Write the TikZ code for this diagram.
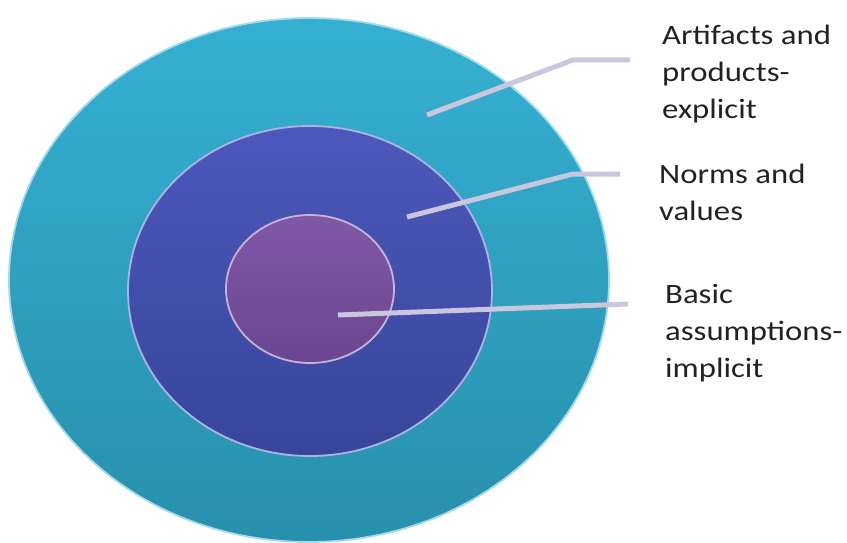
\documentclass[tikz,border=0pt]{standalone}
\usepackage{fontspec}
\setmainfont{Carlito}
\newfontfamily\lblfont[FakeStretch=1.17]{Carlito}
\usetikzlibrary{shapes.geometric}
\usepackage{xcolor}
\definecolor{outerring}{HTML}{35B0D2}
\definecolor{outerringdk}{HTML}{2890AC}
\definecolor{midring}{HTML}{4C58BC}
\definecolor{midringdk}{HTML}{37469A}
\definecolor{corefill}{HTML}{8058A8}
\definecolor{corefilldk}{HTML}{6A4690}
\definecolor{leadline}{HTML}{C9C6DD}
\definecolor{labeltext}{HTML}{222222}

\begin{document}
\begin{tikzpicture}[
    x=1pt, y=-1pt,
    ring/.style n args={2}{ellipse, inner sep=0pt, top color=#1, bottom color=#2, draw=#1!45!white, line width=1.8pt},
    leader/.style={line width=5pt, color=leadline},
    lbl/.style={font=\lblfont\fontsize{28}{37}\selectfont, text=labeltext, align=left, inner sep=0pt},
]
\useasboundingbox (0,0) rectangle (847,543);

\node[ring={outerring}{outerringdk}, minimum width=600pt, minimum height=524pt] (outer) at (309,280) {};
\node[ring={midring}{midringdk}, minimum width=364pt, minimum height=330pt] (mid) at (310,291) {};
\node[ring={corefill}{corefilldk}, minimum width=168pt, minimum height=148pt] (core) at (310,289) {};

% base anchor sits on the last line
\node[lbl, anchor=base west] (art) at (662,119) {Artifacts and\\products-\\explicit};
\node[lbl, anchor=base west] (norm) at (659,220) {Norms and\\values};
\node[lbl, anchor=base west] (basic) at (665,377) {Basic\\assumptions-\\implicit};

\coordinate (artPt) at (427,115);
\coordinate (artBend) at (573,60);
\coordinate (normPt) at (407,217);
\coordinate (normBend) at (573,174);
\coordinate (basicPt) at (338,315);

\draw[leader] (artPt) -- (artBend) -- ([xshift=-32pt]art.west |- artBend);
\draw[leader] (normPt) -- (normBend) -- ([xshift=-39pt]norm.west |- normBend);
\draw[leader] (basicPt) -- ([xshift=-37pt]basic.west |- 0,304);
\end{tikzpicture}
\end{document}
